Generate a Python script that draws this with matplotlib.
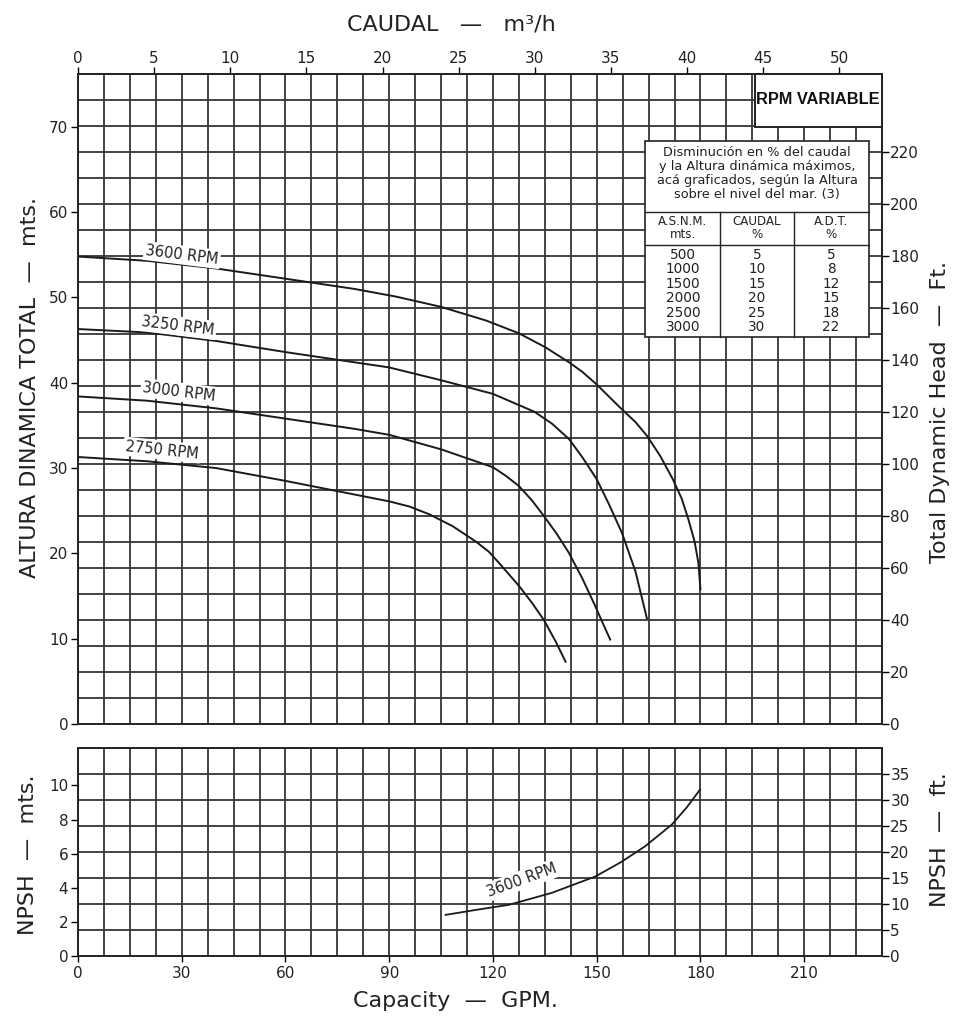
import numpy as np
import matplotlib
matplotlib.use("Agg")
import matplotlib.pyplot as plt
from matplotlib.patches import Rectangle
from matplotlib.lines import Line2D

# ---------------- data ----------------
gpm_3600 = [0, 20, 40, 60, 80, 92, 105, 118, 127.5, 135, 142, 145.8, 150, 157, 161.2, 164.5,
            168.4, 172, 174.6, 176.5, 178.3, 179.4, 180]
m_3600   = [54.8, 54.3, 53.4, 52.2, 51.0, 50.1, 48.9, 47.3, 45.8, 44.2, 42.4, 41.3, 39.8, 37.0, 35.4, 33.8,
            31.4, 28.7, 26.4, 24.0, 21.4, 18.9, 15.8]

gpm_3250 = [0, 20, 40, 60, 80, 90, 105, 120, 132, 137.1, 142, 145.8, 150, 153.5, 157.3, 161.2, 164.5]
m_3250   = [46.3, 45.9, 44.9, 43.6, 42.4, 41.8, 40.3, 38.7, 36.6, 35.2, 33.4, 31.3, 28.7, 25.8, 22.4, 17.9, 12.4]

gpm_3000 = [0, 20, 40, 60, 80, 90, 105, 120, 123.7, 127.5, 131.3, 134.7, 138.6, 141.9, 145.8, 149.6, 152, 153.9]
m_3000   = [38.4, 37.9, 37.0, 35.8, 34.6, 33.9, 32.2, 30.1, 29.1, 27.9, 26.2, 24.4, 22.2, 20.1, 17.1, 13.8, 11.6, 9.9]

gpm_2750 = [0, 20, 40, 60, 75, 90, 95.8, 101.5, 108.3, 115, 118.8, 121.7, 127.5, 131.3, 134.7, 138.1, 141]
m_2750   = [31.3, 30.8, 30.0, 28.5, 27.3, 26.1, 25.5, 24.6, 23.2, 21.4, 20.2, 18.9, 16.2, 14.2, 12.2, 9.7, 7.3]

gpm_npsh = [106.3, 115, 124.6, 137, 149.6, 157, 164, 171.7, 176, 179.9]
m_npsh   = [2.41, 2.7, 3.0, 3.7, 4.66, 5.5, 6.43, 7.7, 8.7, 9.76]

curve_labels = ["3600 RPM", "3250 RPM", "3000 RPM", "2750 RPM"]

gpm_ticks = [0, 30, 60, 90, 120, 150, 180, 210]
m3h_ticks = [0, 5, 10, 15, 20, 25, 30, 35, 40, 45, 50]
head_m_ticks = [0, 10, 20, 30, 40, 50, 60, 70]
head_ft_ticks = [0, 20, 40, 60, 80, 100, 120, 140, 160, 180, 200, 220]
npsh_m_ticks = [0, 2, 4, 6, 8, 10]
npsh_ft_ticks = [0, 5, 10, 15, 20, 25, 30, 35]

table_title = ["Disminución en % del caudal",
               "y la Altura dinámica máximos,",
               "acá graficados, según la Altura",
               "sobre el nivel del mar. (3)"]
table_head = ["A.S.N.M.\nmts.", "CAUDAL\n%", "A.D.T.\n%"]
asnm = ["500", "1000", "1500", "2000", "2500", "3000"]
caudal_pct = ["5", "10", "15", "20", "25", "30"]
adt_pct = ["5", "8", "12", "15", "18", "22"]

# ---------------- helpers ----------------
FT = 3.28084
M3H = 0.227125
def m2ft(v): return np.asarray(v) * FT
def ft2m(v): return np.asarray(v) / FT
def g2q(v): return np.asarray(v) * M3H
def q2g(v): return np.asarray(v) / M3H

W, H = 962, 1024
fig = plt.figure(figsize=(W / 100, H / 100), dpi=100)
plt.rcParams['font.family'] = ['DejaVu Sans']

def fx(x): return x / W
def fy(y): return 1 - y / H

GRID_C = '#353535'
GRID_W = 1.3
TXT = '#222222'
XMAX = 232.5

def style_frame(a):
    for s in a.spines.values():
        s.set_linewidth(1.4)
        s.set_color('#222222')

# ---------------- main axes ----------------
ax = fig.add_axes([fx(78), fy(724), fx(882) - fx(78), fy(74) - fy(724)])
ax.set_xlim(0, XMAX)
ax.set_ylim(0, ft2m(250))
ax.set_xticks(gpm_ticks)
ax.set_xticklabels([])
ax.tick_params(axis='x', which='major', length=0)
ax.set_xticks(np.arange(0, XMAX + 0.1, 7.5), minor=True)
ax.set_yticks(head_m_ticks)
ax.set_yticklabels([str(t) for t in head_m_ticks], fontsize=11, color=TXT)
ax.set_yticks(ft2m(np.arange(0, 251, 10)), minor=True)
ax.tick_params(axis='y', which='major', length=5, width=1, direction='out', pad=2)
ax.tick_params(which='minor', length=0)
ax.grid(which='both', axis='x', color=GRID_C, linewidth=GRID_W, zorder=0)
ax.grid(which='minor', axis='y', color=GRID_C, linewidth=GRID_W, zorder=0)
ax.set_axisbelow(True)
style_frame(ax)

for g, m in [(gpm_3600, m_3600), (gpm_3250, m_3250), (gpm_3000, m_3000), (gpm_2750, m_2750)]:
    ax.plot(g, m, color='#1a1a1a', lw=1.4, zorder=3, solid_joinstyle='round')

sec_r = ax.secondary_yaxis('right', functions=(m2ft, ft2m))
sec_r.set_yticks(head_ft_ticks)
sec_r.set_yticklabels([str(t) for t in head_ft_ticks], fontsize=11, color=TXT)
sec_r.tick_params(length=5, width=1, pad=1)
sec_r.spines['right'].set_visible(False)

sec_t = ax.secondary_xaxis('top', functions=(g2q, q2g))
sec_t.set_xticks(m3h_ticks)
sec_t.set_xticklabels([str(t) for t in m3h_ticks], fontsize=11, color=TXT)
sec_t.tick_params(length=5, width=1, pad=1)
sec_t.spines['top'].set_visible(False)

# curve labels
lab_pos = [(182, 255, -7), (178, 326, -7), (179, 392, -7), (162, 450, -6)]
for txt, (px, py, rot) in zip(curve_labels, lab_pos):
    fig.text(fx(px), fy(py), txt, fontsize=10.5, color=TXT, rotation=rot,
             ha='center', va='center', rotation_mode='anchor', zorder=5,
             bbox=dict(facecolor='white', edgecolor='none', pad=1.5))

# RPM VARIABLE box
fig.patches.append(Rectangle((fx(755), fy(127)), fx(882) - fx(755), fy(74) - fy(127),
                             transform=fig.transFigure, facecolor='white',
                             edgecolor='#222222', lw=1.4, zorder=4))
fig.text(fx(818), fy(100), "RPM VARIABLE", fontsize=11.8, color='#111111',
         family=['Liberation Sans', 'DejaVu Sans'], weight='bold',
         ha='center', va='center', zorder=6)

# table box
tl, tr, tt, tb = 645, 869, 141, 337
fig.patches.append(Rectangle((fx(tl), fy(tb)), fx(tr) - fx(tl), fy(tt) - fy(tb),
                             transform=fig.transFigure, facecolor='white',
                             edgecolor='#222222', lw=1.2, zorder=4))
for yy in (211.5, 244.5):
    fig.lines.append(Line2D([fx(tl), fx(tr)], [fy(yy), fy(yy)], transform=fig.transFigure,
                            color='#222222', lw=1.0, zorder=5))
for xx in (720, 794):
    fig.lines.append(Line2D([fx(xx), fx(xx)], [fy(211.5), fy(tb)], transform=fig.transFigure,
                            color='#222222', lw=1.0, zorder=5))
for i, line in enumerate(table_title):
    fig.text(fx(757), fy(152 + 14.2 * i), line, fontsize=9.3, color=TXT,
             ha='center', va='center', zorder=6)
cols = [683, 757, 831]
for c, h in zip(cols, table_head):
    fig.text(fx(c), fy(228), h, fontsize=8.6, color=TXT, ha='center', va='center',
             linespacing=1.05, zorder=6)
for i in range(len(asnm)):
    yy = 255 + 14.4 * i
    for c, v in zip(cols, (asnm[i], caudal_pct[i], adt_pct[i])):
        fig.text(fx(c), fy(yy), v, fontsize=9.8, color=TXT, ha='center', va='center', zorder=6)

# ---------------- NPSH axes ----------------
bx = fig.add_axes([fx(78), fy(956), fx(882) - fx(78), fy(748) - fy(956)])
bx.set_xlim(0, XMAX)
bx.set_ylim(0, ft2m(40))
bx.set_xticks(gpm_ticks)
bx.set_xticklabels([str(t) for t in gpm_ticks], fontsize=11, color=TXT)
bx.tick_params(axis='x', which='major', length=4, width=1, pad=3)
bx.set_xticks(np.arange(0, XMAX + 0.1, 7.5), minor=True)
bx.set_yticks(npsh_m_ticks)
bx.set_yticklabels([str(t) for t in npsh_m_ticks], fontsize=11, color=TXT)
bx.tick_params(axis='y', which='major', length=5, width=1, pad=2)
bx.set_yticks(ft2m(np.arange(0, 41, 5)), minor=True)
bx.tick_params(which='minor', length=0)
bx.grid(which='both', axis='x', color=GRID_C, linewidth=GRID_W, zorder=0)
bx.grid(which='minor', axis='y', color=GRID_C, linewidth=GRID_W, zorder=0)
bx.set_axisbelow(True)
style_frame(bx)
bx.plot(gpm_npsh, m_npsh, color='#1a1a1a', lw=1.3, zorder=3, solid_joinstyle='round')

sec_b = bx.secondary_yaxis('right', functions=(m2ft, ft2m))
sec_b.set_yticks(npsh_ft_ticks)
sec_b.set_yticklabels([str(t) for t in npsh_ft_ticks], fontsize=11, color=TXT)
sec_b.tick_params(length=5, width=1, pad=1)
sec_b.spines['right'].set_visible(False)

fig.text(fx(522), fy(880), "3600 RPM", fontsize=10.5, color=TXT, rotation=20,
         ha='center', va='center', rotation_mode='anchor', zorder=5,
         bbox=dict(facecolor='white', edgecolor='none', pad=1.5))

# ---------------- axis titles ----------------
TFS = 16
fig.text(fx(451), fy(25), "CAUDAL   —   m³/h", fontsize=TFS, color=TXT, ha='center', va='center')
fig.text(fx(30), fy(387), "ALTURA DINAMICA TOTAL  —  mts.", fontsize=TFS, color=TXT,
         rotation=90, ha='center', va='center')
fig.text(fx(940), fy(412), "Total Dynamic Head  —  Ft.", fontsize=TFS, color=TXT,
         rotation=90, ha='center', va='center')
fig.text(fx(28), fy(855), "NPSH  —  mts.", fontsize=TFS, color=TXT,
         rotation=90, ha='center', va='center')
fig.text(fx(940), fy(840), "NPSH  —  ft.", fontsize=TFS, color=TXT,
         rotation=90, ha='center', va='center')
fig.text(fx(455), fy(1001), "Capacity  —  GPM.", fontsize=TFS, color=TXT, ha='center', va='center')

fig.savefig("out.png", dpi=100, facecolor='white')
